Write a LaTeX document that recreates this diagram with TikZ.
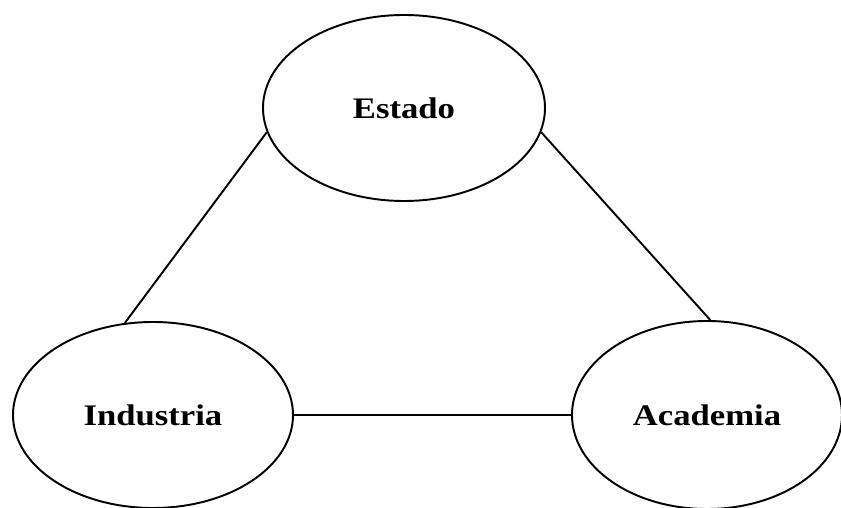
\documentclass[tikz,border=0pt]{standalone}
\usepackage{fontspec}
\newfontfamily\labelfont{Liberation Serif}[FakeStretch=1.16]
\usetikzlibrary{shapes.geometric}
\tikzset{sector/.style={ellipse, draw, line width=1.1pt, inner sep=0pt, font=\labelfont\fontsize{17}{20}\selectfont\bfseries}}

\begin{document}
\begin{tikzpicture}
\useasboundingbox (0,0) rectangle (16.82,10.16);
    \node[sector, minimum width=5.64cm, minimum height=3.72cm] (estado) at (8.08,8.00) {Estado};
    \node[sector, minimum width=5.60cm, minimum height=3.72cm] (industria) at (3.06,1.86) {Industria};
    \node[sector, minimum width=5.40cm, minimum height=3.76cm] (academia) at (14.14,1.86) {Academia};
\draw[line width=1.1pt] (estado.190) -- (industria.107);
\draw[line width=1.1pt] (estado.350) -- (academia.88);
\draw[line width=1.1pt] (industria.east) -- (academia.west);
    \end{tikzpicture}
\end{document}
